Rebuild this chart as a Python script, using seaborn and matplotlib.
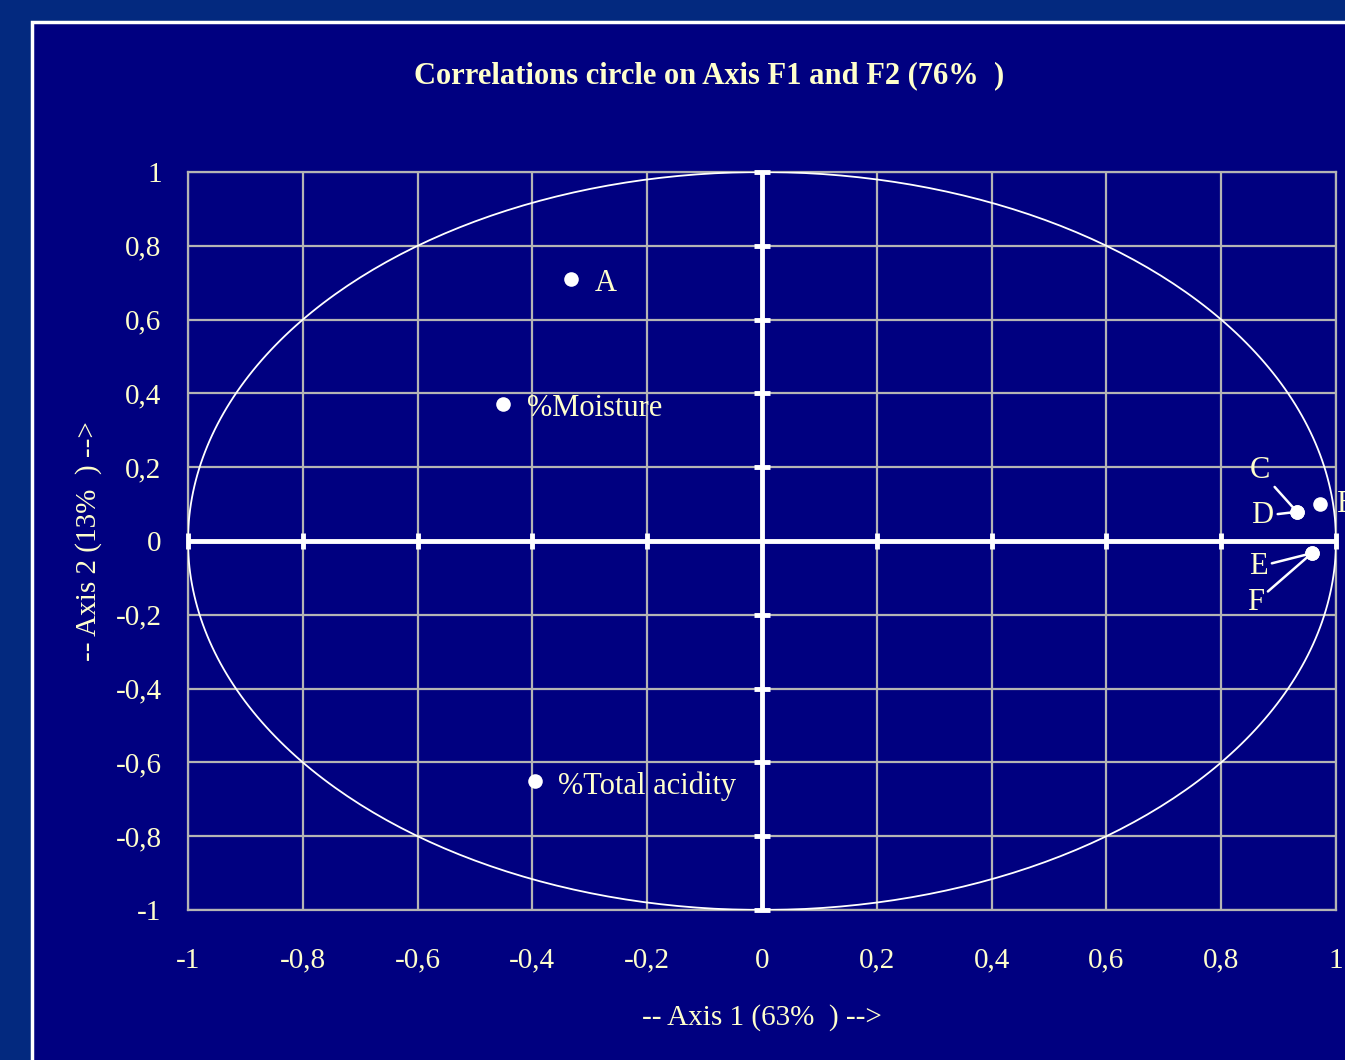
import numpy as np
import pandas as pd
import matplotlib
matplotlib.use("Agg")
import matplotlib.pyplot as plt
import seaborn as sns
from matplotlib.patches import Rectangle

# variables projected on F1 / F2
var_names = ["A", "%Moisture", "%Total acidity", "B", "C", "D", "E", "F"]
f1_coords = [-0.333, -0.451, -0.395, 0.972, 0.932, 0.932, 0.958, 0.958]
f2_coords = [0.710, 0.371, -0.650, 0.100, 0.079, 0.079, -0.033, -0.033]

grid_ticks = [-1, -0.8, -0.6, -0.4, -0.2, 0, 0.2, 0.4, 0.6, 0.8, 1]
tick_labels = ["-1", "-0,8", "-0,6", "-0,4", "-0,2", "0", "0,2", "0,4", "0,6", "0,8", "1"]

title = "Correlations circle on Axis F1 and F2 (76%  )"
xlabel = "-- Axis 1 (63%  ) -->"
ylabel = "-- Axis 2 (13%  ) -->"

outer_bg = "#03297F"
panel_bg = "#000080"
txt_col = "#FFFFCC"
grid_col = "#B4B4B4"

sns.set_theme(style="white")
plt.rcParams["font.family"] = ["Liberation Serif", "DejaVu Serif"]

W, H = 1345, 1060
fig = plt.figure(figsize=(W / 100, H / 100), dpi=100, facecolor=outer_bg)

# white-bordered navy panel, running off the right and bottom edges
fig.patches.append(Rectangle((32 / W, -0.2), 1.2, 1.2 - 22 / H,
                             transform=fig.transFigure, facecolor=panel_bg,
                             edgecolor="white", lw=2.5, zorder=-10))

ax = fig.add_axes([188 / W, 1 - 910 / H, 1148 / W, 738 / H])
ax.set_zorder(1)
ax.set_facecolor(panel_bg)
ax.set_xlim(-1, 1)
ax.set_ylim(-1, 1)
ax.set_xticks(grid_ticks)
ax.set_yticks(grid_ticks)
ax.set_xticklabels(tick_labels)
ax.set_yticklabels(tick_labels)
ax.tick_params(length=0, labelsize=21, colors=txt_col)
ax.tick_params(axis="y", pad=19)
ax.tick_params(axis="x", pad=27)
ax.grid(True, color=grid_col, lw=1.6)
for sp in ax.spines.values():
    sp.set_color(grid_col)
    sp.set_linewidth(1.6)

# unit circle
t = np.linspace(0, 2 * np.pi, 400)
ax.plot(np.cos(t), np.sin(t), color="white", lw=1.3, zorder=3)

# center axes with small ticks
ax.axhline(0, color="white", lw=3.5, zorder=4)
ax.axvline(0, color="white", lw=3.5, zorder=4)
inner = [v for v in grid_ticks if v != 0]
ax.plot(inner, [0] * len(inner), ls="none", marker="|", ms=12, mew=3.5,
        color="white", zorder=4, clip_on=False)
ax.plot([0] * len(inner), inner, ls="none", marker="_", ms=12, mew=3.5,
        color="white", zorder=4, clip_on=False)

df = pd.DataFrame({"F1": f1_coords, "F2": f2_coords, "name": var_names})
sns.scatterplot(data=df, x="F1", y="F2", ax=ax, color="white", s=110,
                edgecolor="white", linewidth=0, zorder=5, clip_on=False, legend=False)

lab_kw = dict(color=txt_col, fontsize=22, zorder=6, annotation_clip=False)
ax.annotate("A", (f1_coords[0], f2_coords[0]), xytext=(-0.273, 0.697),
            ha="center", va="center", **lab_kw)
ax.annotate("%Moisture", (f1_coords[1], f2_coords[1]), xytext=(-0.409, 0.360),
            ha="left", va="center", **lab_kw)
ax.annotate("%Total acidity", (f1_coords[2], f2_coords[2]), xytext=(-0.355, -0.664),
            ha="left", va="center", **lab_kw)
ax.annotate("B", (f1_coords[3], f2_coords[3]), xytext=(1.0, 0.10),
            ha="left", va="center", **lab_kw)

leader = dict(arrowstyle="-", color="white", lw=1.8, shrinkA=1, shrinkB=4)
ax.annotate("C", (f1_coords[4], f2_coords[4]), xytext=(0.868, 0.190),
            ha="center", va="center", arrowprops=leader, **lab_kw)
ax.annotate("D", (f1_coords[5], f2_coords[5]), xytext=(0.871, 0.068),
            ha="center", va="center", arrowprops=leader, **lab_kw)
ax.annotate("E", (f1_coords[6], f2_coords[6]), xytext=(0.864, -0.070),
            ha="center", va="center", arrowprops=leader, **lab_kw)
ax.annotate("F", (f1_coords[7], f2_coords[7]), xytext=(0.859, -0.167),
            ha="center", va="center", arrowprops=leader, **lab_kw)

ax.set_xlabel(xlabel, color=txt_col, fontsize=21, labelpad=22)
ax.set_ylabel(ylabel, color=txt_col, fontsize=21, labelpad=10)
fig.text(709 / W, 1 - 76 / H, title, color=txt_col, fontsize=22,
         fontweight="bold", ha="center", va="center")

fig.savefig("out.png", dpi=100, facecolor=outer_bg)
